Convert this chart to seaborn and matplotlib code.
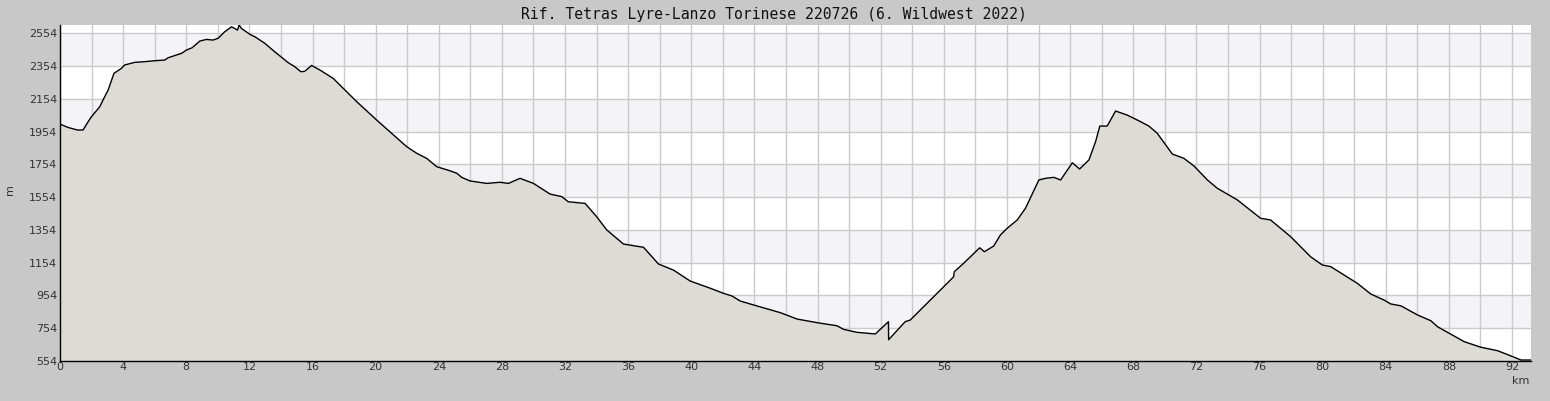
import matplotlib
matplotlib.use("Agg")
import matplotlib.pyplot as plt
import seaborn as sns
import numpy as np
import pandas as pd
from matplotlib.ticker import MultipleLocator, FixedLocator, FuncFormatter

title = "Rif. Tetras Lyre-Lanzo Torinese 220726 (6. Wildwest 2022)"

km = [0.0, 0.5, 1.1, 1.46, 1.78, 1.99, 2.52, 2.83, 3.05, 3.42, 3.89, 4.1, 4.74, 5.37, 6.0, 6.64,
      6.85, 7.7, 8.01, 8.37, 8.86, 9.28, 9.7, 10.02, 10.44, 10.87, 11.25, 11.35, 11.5, 12.03,
      12.35, 12.98, 13.6, 14.46, 14.88, 15.26, 15.5, 15.94, 16.47, 17.31, 17.95, 18.8, 20.06,
      20.9, 21.97, 22.6, 23.23, 23.87, 24.71, 25.14, 25.45, 25.98, 27.04, 27.88, 28.41, 29.15,
      30.0, 31.05, 31.8, 32.2, 33.27, 34.0, 34.64, 35.7, 36.97, 37.92, 38.87, 39.93, 41.2,
      42.04, 42.57, 43.1, 44.16, 45.64, 46.7, 47.97, 49.23, 49.65, 50.5, 51.66, 52.49, 52.5,
      53.55, 53.87, 55.77, 56.62, 56.66, 57.25, 58.27, 58.57, 59.16, 59.58, 60.01, 60.65,
      61.17, 62.02, 62.44, 62.97, 63.4, 64.14, 64.6, 65.19, 65.61, 65.88, 66.35, 66.88, 67.62,
      68.36, 68.99, 69.52, 70.48, 71.21, 71.85, 72.7, 73.33, 74.6, 76.07, 76.7, 77.97, 79.24,
      79.98, 80.51, 82.2, 83.05, 83.89, 84.32, 84.95, 86.01, 86.85, 87.28, 88.97, 90.02,
      91.08, 91.93, 92.56, 93.2]
elev = [2000, 1980, 1964, 1964, 2014, 2045, 2106, 2167, 2208, 2310, 2340, 2361, 2377, 2381, 2387,
        2391, 2405, 2432, 2452, 2466, 2507, 2517, 2513, 2524, 2564, 2594, 2574, 2605, 2584, 2548,
        2533, 2493, 2442, 2375, 2350, 2320, 2322, 2358, 2330, 2279, 2218, 2137, 2025, 1953, 1862,
        1822, 1791, 1740, 1715, 1700, 1675, 1653, 1638, 1645, 1638, 1669, 1638, 1573, 1557, 1526,
        1516, 1435, 1354, 1268, 1248, 1146, 1109, 1042, 998, 967, 951, 920, 890, 849, 810, 788,
        769, 747, 729, 719, 794, 684, 794, 804, 987, 1068, 1099, 1150, 1245, 1221, 1256, 1323,
        1364, 1415, 1486, 1659, 1669, 1675, 1659, 1764, 1726, 1781, 1892, 1988, 1988, 2080, 2055,
        2020, 1988, 1944, 1817, 1791, 1744, 1659, 1608, 1537, 1425, 1415, 1313, 1190, 1140, 1130,
        1028, 963, 926, 902, 891, 835, 800, 763, 672, 638, 617, 585, 560, 560]

y_labels = [554, 754, 954, 1154, 1354, 1554, 1754, 1954, 2154, 2354, 2554]
x_labels = list(range(0, 93, 4))

df = pd.DataFrame({"km": km, "m": elev})

sns.set_theme(style="white")
plt.rcParams['font.family'] = ['DejaVu Sans']

fig = plt.figure(figsize=(15.5, 4.01), dpi=100, facecolor="#c8c8c8")
ax = fig.add_axes([60 / 1550, 40 / 401, (1531 - 60) / 1550, (361 - 25) / 401])
ax.set_facecolor("white")

ymin, ymax = 554, 2605
xmin, xmax = 0, 93.2

# alternating bands
for i, lo in enumerate(y_labels[:-1]):
    if i % 2 == 1:
        ax.axhspan(lo, lo + 200, color="#f4f3f7", zorder=0, lw=0)

# grid
for yv in y_labels:
    ax.axhline(yv, color="#cbcbcb", lw=1.0, zorder=1)
for xv in np.arange(0, 93, 2):
    ax.axvline(xv, color="#cbcbcb", lw=1.0, zorder=1)

ax.fill_between(df["km"], df["m"], ymin, color="#dcdbd6", zorder=2, lw=0)
sns.lineplot(data=df, x="km", y="m", ax=ax, color="black", lw=1.0, zorder=3, sort=False)

ax.set_xlim(xmin, xmax)
ax.set_ylim(ymin, ymax)

ax.xaxis.set_major_locator(FixedLocator(np.arange(0, 93, 2)))
ax.xaxis.set_major_formatter(FuncFormatter(lambda v, p: f"{int(round(v))}" if int(round(v)) % 4 == 0 else ""))
ax.xaxis.set_minor_locator(MultipleLocator(1))
ax.yaxis.set_major_locator(FixedLocator(y_labels))
ax.yaxis.set_minor_locator(FixedLocator([v + 100 for v in y_labels[:-1]]))

ax.tick_params(axis="both", which="major", direction="in", length=5, width=1, color="black",
               labelsize=8, labelcolor="#333333", pad=2)
ax.tick_params(axis="x", which="minor", direction="in", length=3, width=1, color="black")
ax.tick_params(axis="y", which="minor", direction="in", length=5, width=1, color="black")
ax.tick_params(axis="x", which="major", pad=1)

for s in ["top", "right"]:
    ax.spines[s].set_visible(False)
for s in ["left", "bottom"]:
    ax.spines[s].set_color("black")
    ax.spines[s].set_linewidth(1.0)
    ax.spines[s].set_zorder(5)

ax.set_xlabel("")
ax.set_ylabel("")
fig.text(10 / 1550, 1 - 190 / 401, "m", rotation=90, ha="center", va="center", fontsize=8, color="#333333")
fig.text(1521 / 1550, 1 - 381 / 401, "km", ha="center", va="center", fontsize=8, color="#333333")
fig.text(774 / 1550, 1 - 14 / 401, title, ha="center", va="center", fontsize=10.6,
         family="DejaVu Sans Mono", color="#111111")

fig.savefig("out.png", dpi=100, facecolor=fig.get_facecolor())
